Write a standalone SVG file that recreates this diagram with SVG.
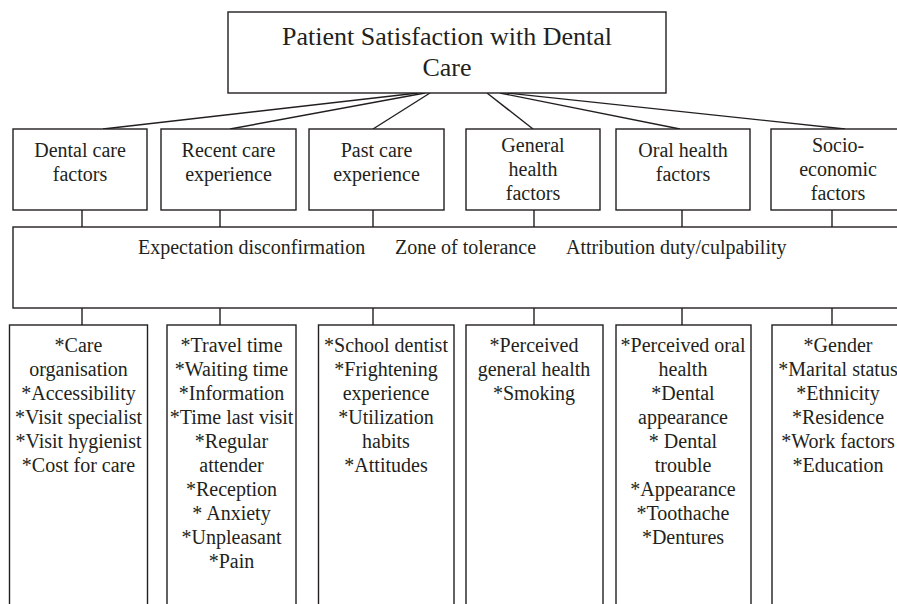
<svg xmlns="http://www.w3.org/2000/svg" width="897" height="604" viewBox="0 0 897 604">
<style>
.b{fill:#fff;stroke:#231f20;stroke-width:1.4}
.c line{stroke:#231f20;stroke-width:1.4}
text{font-family:"Liberation Serif","Times New Roman",serif;font-size:20px;fill:#231f20;text-anchor:middle}
.t{font-size:26px}
.s{text-anchor:start}
</style>
<rect width="897" height="604" fill="#fff"/>
<g id="connectors" class="c">
<line x1="418" y1="93" x2="103" y2="129"/>
<line x1="425" y1="93" x2="230" y2="129"/>
<line x1="430" y1="93" x2="373" y2="129"/>
<line x1="487" y1="93" x2="533" y2="129"/>
<line x1="500" y1="93" x2="680" y2="129"/>
<line x1="507" y1="93" x2="845" y2="129"/>
<line x1="82" y1="210" x2="82" y2="227"/>
<line x1="220" y1="210" x2="220" y2="227"/>
<line x1="373" y1="210" x2="373" y2="227"/>
<line x1="534" y1="210" x2="534" y2="227"/>
<line x1="682" y1="210" x2="682" y2="227"/>
<line x1="832" y1="210" x2="832" y2="227"/>
<line x1="82" y1="308" x2="82" y2="325"/>
<line x1="220" y1="308" x2="220" y2="325"/>
<line x1="373" y1="308" x2="373" y2="325"/>
<line x1="534" y1="308" x2="534" y2="325"/>
<line x1="682" y1="308" x2="682" y2="325"/>
<line x1="832" y1="308" x2="832" y2="325"/>
</g>
<g id="root">
<rect class="b" x="228" y="12" width="438" height="81"/>
<text class="t" x="447" y="45">Patient Satisfaction with Dental</text>
<text class="t" x="447" y="76">Care</text>
</g>
<g id="cat-dental">
<rect class="b" x="13" y="129" width="134" height="81"/>
<text x="80" y="157">Dental care</text>
<text x="80" y="181">factors</text>
</g>
<g id="cat-recent">
<rect class="b" x="161" y="129" width="135" height="81"/>
<text x="228.5" y="157">Recent care</text>
<text x="228.5" y="181">experience</text>
</g>
<g id="cat-past">
<rect class="b" x="309" y="129" width="135" height="81"/>
<text x="376.5" y="157">Past care</text>
<text x="376.5" y="181">experience</text>
</g>
<g id="cat-general">
<rect class="b" x="466" y="129" width="134" height="81"/>
<text x="533" y="152">General</text>
<text x="533" y="176">health</text>
<text x="533" y="200">factors</text>
</g>
<g id="cat-oral">
<rect class="b" x="616" y="129" width="134" height="81"/>
<text x="683" y="157">Oral health</text>
<text x="683" y="181">factors</text>
</g>
<g id="cat-socio">
<rect class="b" x="771" y="129" width="134" height="81"/>
<text x="838" y="152">Socio-</text>
<text x="838" y="176">economic</text>
<text x="838" y="200">factors</text>
</g>
<g id="mediators">
<rect class="b" x="13" y="227" width="900" height="81"/>
<text class="s" x="138" y="253.5">Expectation disconfirmation</text>
<text class="s" x="395" y="253.5">Zone of tolerance</text>
<text class="s" x="566" y="253.5">Attribution duty/culpability</text>
</g>
<g id="list-dental">
<rect class="b" x="9.5" y="325" width="138" height="300"/>
<text x="78.5" y="352">*Care</text>
<text x="78.5" y="376">organisation</text>
<text x="78.5" y="400">*Accessibility</text>
<text x="78.5" y="424">*Visit specialist</text>
<text x="78.5" y="448">*Visit hygienist</text>
<text x="78.5" y="472">*Cost for care</text>
</g>
<g id="list-recent">
<rect class="b" x="167" y="325" width="129" height="300"/>
<text x="231.5" y="352">*Travel time</text>
<text x="231.5" y="376">*Waiting time</text>
<text x="231.5" y="400">*Information</text>
<text x="231.5" y="424">*Time last visit</text>
<text x="231.5" y="448">*Regular</text>
<text x="231.5" y="472">attender</text>
<text x="231.5" y="496">*Reception</text>
<text x="231.5" y="520">* Anxiety</text>
<text x="231.5" y="544">*Unpleasant</text>
<text x="231.5" y="568">*Pain</text>
</g>
<g id="list-past">
<rect class="b" x="318.5" y="325" width="135.5" height="300"/>
<text x="386" y="352">*School dentist</text>
<text x="386" y="376">*Frightening</text>
<text x="386" y="400">experience</text>
<text x="386" y="424">*Utilization</text>
<text x="386" y="448">habits</text>
<text x="386" y="472">*Attitudes</text>
</g>
<g id="list-general">
<rect class="b" x="466" y="325" width="137" height="300"/>
<text x="534" y="352">*Perceived</text>
<text x="534" y="376">general health</text>
<text x="534" y="400">*Smoking</text>
</g>
<g id="list-oral">
<rect class="b" x="616" y="325" width="135" height="300"/>
<text x="683" y="352">*Perceived oral</text>
<text x="683" y="376">health</text>
<text x="683" y="400">*Dental</text>
<text x="683" y="424">appearance</text>
<text x="683" y="448">* Dental</text>
<text x="683" y="472">trouble</text>
<text x="683" y="496">*Appearance</text>
<text x="683" y="520">*Toothache</text>
<text x="683" y="544">*Dentures</text>
</g>
<g id="list-socio">
<rect class="b" x="772" y="325" width="134" height="300"/>
<text x="838" y="352">*Gender</text>
<text x="838" y="376">*Marital status</text>
<text x="838" y="400">*Ethnicity</text>
<text x="838" y="424">*Residence</text>
<text x="838" y="448">*Work factors</text>
<text x="838" y="472">*Education</text>
</g>
</svg>
